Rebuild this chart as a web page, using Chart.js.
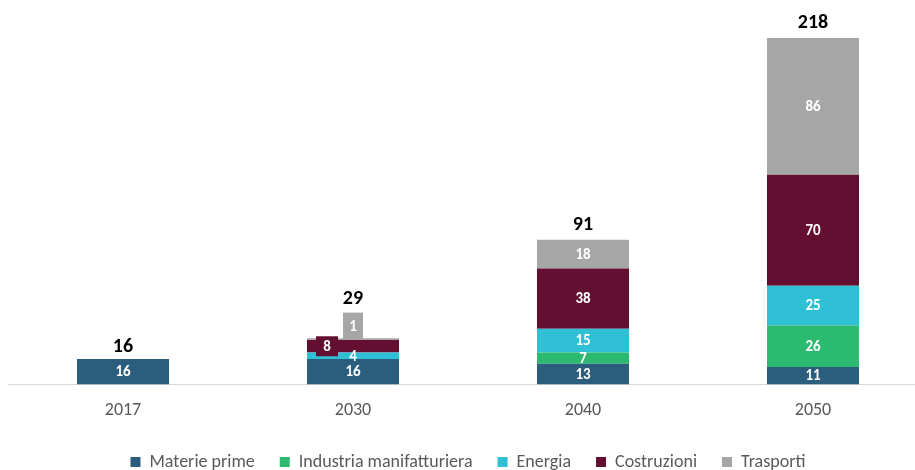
<!DOCTYPE html>
<html>
<head>
<meta charset="utf-8">
<script src="https://cdn.jsdelivr.net/npm/chart.js@4/dist/chart.umd.min.js"></script>
<style>
    html, body { margin: 0; padding: 0; background: #fff; overflow: hidden; }
    #wrap { width: 930px; height: 481px; }
</style>
</head>
<body>
<div id="wrap"><canvas id="chart"></canvas></div>
<script>
const years = ['2017', '2030', '2040', '2050'];
const materiePrime = [16, 16, 13, 11];
const industria = [0, 0, 7, 26];
const energia = [0, 4, 15, 25];
const costruzioni = [0, 8, 38, 70];
const trasporti = [0, 1, 18, 86];
const totals = [16, 29, 91, 218];

const FONT = 'Carlito, Lato, "Open Sans", sans-serif';

// tiny segments in 2030 get their label pushed aside on a coloured box
const labelShift = {
    '1-1': { dx: 0, dy: 0, box: [26, 13] },
    '3-1': { dx: -26, dy: 0, box: [22, 20] },
    '4-1': { dx: 0, dy: -13, box: [20, 27] }
};
const totalShift = { 0: 3, 1: -24 };

const segmentLabels = {
    id: 'segmentLabels',
    afterDatasetsDraw(chart) {
        const ctx = chart.ctx;
        ctx.save();
        ctx.textAlign = 'center';
        ctx.textBaseline = 'middle';
        chart.data.datasets.forEach((ds, di) => {
            const meta = chart.getDatasetMeta(di);
            meta.data.forEach((bar, i) => {
                const v = ds.data[i];
                if (!v) return;
                const s = labelShift[di + '-' + i] || { dx: 0, dy: 0 };
                const x = bar.x + s.dx;
                const y = (bar.y + bar.base) / 2 + s.dy;
                if (s.box) {
                    ctx.fillStyle = ds.backgroundColor;
                    ctx.fillRect(x - s.box[0] / 2, y - s.box[1] / 2, s.box[0], s.box[1]);
                }
                ctx.fillStyle = '#ffffff';
                ctx.font = 'bold 15px ' + FONT;
                ctx.fillText(String(v), x, y + 1);
            });
        });
        // totals above each stack
        const last = chart.getDatasetMeta(chart.data.datasets.length - 1);
        last.data.forEach((bar, i) => {
            ctx.fillStyle = '#000000';
            ctx.font = 'bold 20px ' + FONT;
            ctx.fillText(String(totals[i]), bar.x, bar.y - 15 + (totalShift[i] || 0));
        });
        ctx.restore();
    }
};

const ctx = document.getElementById('chart').getContext('2d');
new Chart(ctx, {
    type: 'bar',
    data: {
        labels: years,
        datasets: [
            { label: 'Materie prime', data: materiePrime, backgroundColor: '#2b5d7d' },
            { label: 'Industria manifatturiera', data: industria, backgroundColor: '#2bba6f' },
            { label: 'Energia', data: energia, backgroundColor: '#30c0d6' },
            { label: 'Costruzioni', data: costruzioni, backgroundColor: '#640f31' },
            { label: 'Trasporti', data: trasporti, backgroundColor: '#a6a6a6' }
        ]
    },
    options: {
        responsive: true,
        maintainAspectRatio: false,
        animation: false,
        layout: { padding: { top: 3, left: 8, right: 2, bottom: 0 } },
        datasets: { bar: { categoryPercentage: 1, barPercentage: 0.4 } },
        scales: {
            x: {
                stacked: true,
                grid: { display: false },
                border: { color: '#d9d9d9', width: 1 },
                ticks: { color: '#595959', font: { family: FONT, size: 18 }, padding: 7 }
            },
            y: {
                stacked: true,
                display: false,
                min: 0,
                max: 240
            }
        },
        plugins: {
            tooltip: { enabled: false },
            legend: {
                position: 'bottom',
                labels: {
                    boxWidth: 10,
                    boxHeight: 10,
                    padding: 25,
                    color: '#595959',
                    font: { family: FONT, size: 18 }
                }
            }
        }
    },
    plugins: [segmentLabels]
});
</script>
</body>
</html>
